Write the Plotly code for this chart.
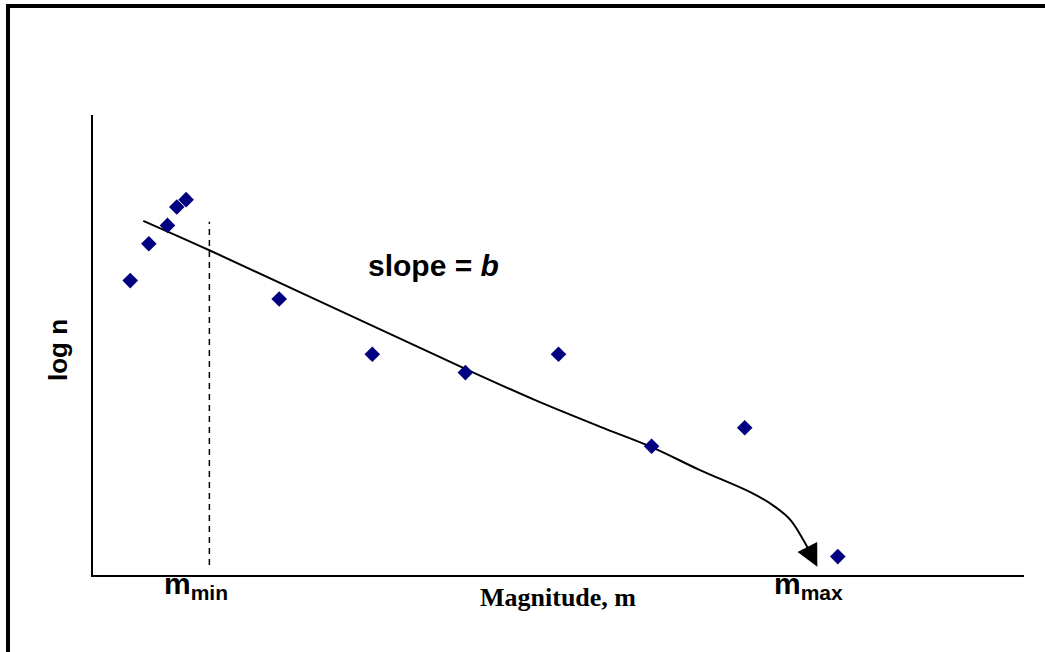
import plotly.graph_objects as go

# Data (magnitude vs log n)
mag = [0.4, 0.6, 0.8, 0.9, 1.0, 2.0, 3.0, 4.0, 5.0, 6.0, 7.0, 8.0]
logn = [3.2, 3.6, 3.8, 4.0, 4.08, 3.0, 2.4, 2.2, 2.4, 1.4, 1.6, 0.2]

# Fitted trend curve (hand-drawn style)
curve_x = [0.54, 1.25, 2.36, 4.0, 4.75, 5.45, 6.0, 6.52, 7.06, 7.30, 7.49, 7.63, 7.71]
curve_y = [3.85, 3.53, 3.01, 2.24, 1.90, 1.61, 1.39, 1.14, 0.90, 0.76, 0.60, 0.38, 0.23]
arrow_tip = (7.78, 0.09)

m_min = 1.25
dash_y = [0.11, 3.84]

fig = go.Figure()

fig.add_trace(go.Scatter(
    x=curve_x, y=curve_y, mode="lines",
    line=dict(color="black", width=2, shape="spline", smoothing=1.0),
    hoverinfo="skip", showlegend=False))

fig.add_trace(go.Scatter(
    x=[m_min, m_min], y=dash_y, mode="lines",
    line=dict(color="black", width=1.5, dash="6px,5px"),
    hoverinfo="skip", showlegend=False))

fig.add_trace(go.Scatter(
    x=mag, y=logn, mode="markers",
    marker=dict(symbol="diamond", size=12, color="#000080",
                line=dict(width=0)),
    showlegend=False))

fig.add_annotation(x=arrow_tip[0], y=arrow_tip[1], ax=curve_x[-1], ay=curve_y[-1],
                   xref="x", yref="y", axref="x", ayref="y", text="",
                   showarrow=True, arrowhead=2, arrowsize=2.2, arrowwidth=2,
                   arrowcolor="black", standoff=0)

fig.add_annotation(x=3.66, y=3.36, xref="x", yref="y",
                   text="<b>slope = <i>b</i></b>", showarrow=False,
                   xanchor="center", yanchor="middle",
                   font=dict(family="Liberation Sans, Arial", size=30, color="black"))


def px_x(p):
    return (p - 93) / 931


def px_y(p):
    return (575 - p) / 460


fig.add_annotation(x=px_x(196), y=px_y(585), xref="paper", yref="paper",
                   text="<b>m<sub>min</sub></b>", showarrow=False,
                   xanchor="center", yanchor="middle",
                   font=dict(family="Liberation Sans, Arial", size=30, color="black"))
fig.add_annotation(x=px_x(808), y=px_y(585), xref="paper", yref="paper",
                   text="<b>m<sub>max</sub></b>", showarrow=False,
                   xanchor="center", yanchor="middle",
                   font=dict(family="Liberation Sans, Arial", size=30, color="black"))

fig.add_annotation(x=px_x(558), y=px_y(597), xref="paper", yref="paper",
                   text="<b>Magnitude, m</b>", showarrow=False,
                   xanchor="center", yanchor="middle",
                   font=dict(family="Liberation Serif, Times New Roman", size=26, color="black"))

fig.add_annotation(x=px_x(58), y=px_y(350), xref="paper", yref="paper",
                   text="<b>log n</b>", showarrow=False, textangle=-90,
                   xanchor="center", yanchor="middle",
                   font=dict(family="Liberation Sans, Arial", size=26, color="black"))

# outer frame (top and left borders)
fig.add_shape(type="line", xref="paper", yref="paper",
              x0=px_x(8), x1=px_x(8), y0=px_y(4), y1=px_y(660),
              line=dict(color="black", width=4))
fig.add_shape(type="line", xref="paper", yref="paper",
              x0=px_x(6), x1=px_x(1060), y0=px_y(6), y1=px_y(6),
              line=dict(color="black", width=4))

fig.update_xaxes(range=[0, 10], showline=True, linecolor="black", linewidth=2,
                 showgrid=False, zeroline=False, showticklabels=False, ticks="")
fig.update_yaxes(range=[0, 5], showline=True, linecolor="black", linewidth=2,
                 showgrid=False, zeroline=False, showticklabels=False, ticks="")

fig.update_layout(width=1045, height=652,
                  margin=dict(l=93, r=21, t=115, b=77),
                  plot_bgcolor="white", paper_bgcolor="white")

fig.write_html("out.html")
